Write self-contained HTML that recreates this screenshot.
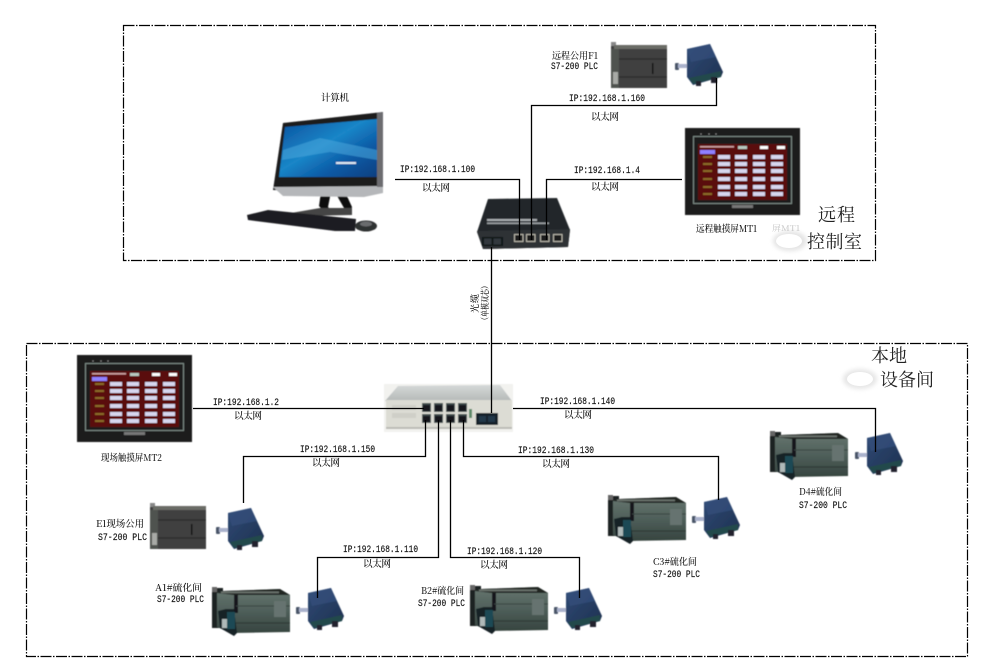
<!DOCTYPE html>
<html lang="zh">
<head>
<meta charset="utf-8">
<title>网络拓扑图</title>
<style>
html,body{margin:0;padding:0;background:#fff;width:985px;height:670px;overflow:hidden}
svg{display:block}
text{font-family:"Liberation Serif","Noto Serif CJK SC",serif;fill:#262626}
.ip{font-family:"Liberation Mono",monospace;font-size:10px;fill:#111;stroke:#111;stroke-width:.15}
.cn{font-family:"Noto Serif CJK SC","WenQuanYi Zen Hei",serif;font-size:9.6px;fill:#111;font-weight:500}
.big{font-family:"Noto Serif CJK SC","WenQuanYi Zen Hei",serif;font-size:18px;fill:#222;font-weight:400}
.l{fill:none;stroke:#000;stroke-width:1.3}
.b{fill:none;stroke:#000;stroke-width:1.2;stroke-dasharray:11 1.500 1.500 1.500}
</style>
</head>
<body>
<svg width="985" height="670" viewBox="0 0 985 670" xmlns="http://www.w3.org/2000/svg">
<defs>
<filter id="s" x="-5%" y="-5%" width="110%" height="110%"><feGaussianBlur stdDeviation="0.45"/></filter>
<filter id="c" x="-30%" y="-30%" width="160%" height="160%"><feGaussianBlur stdDeviation="2"/></filter>
<linearGradient id="scr" x1="0" y1="0" x2="1" y2="1"><stop offset="0" stop-color="#0a4f9c"/><stop offset=".45" stop-color="#1a86c8"/><stop offset=".7" stop-color="#0c5ba6"/><stop offset="1" stop-color="#0a3f80"/></linearGradient>
<linearGradient id="pl" x1="0" y1="0" x2="0" y2="1"><stop offset="0" stop-color="#66766f"/><stop offset=".5" stop-color="#4f5f5a"/><stop offset="1" stop-color="#36443f"/></linearGradient>
<linearGradient id="md" x1="0" y1="0" x2="1" y2="1"><stop offset="0" stop-color="#304a74"/><stop offset="1" stop-color="#1d3050"/></linearGradient>
<linearGradient id="sw" x1="0" y1="0" x2="0" y2="1"><stop offset="0" stop-color="#d5d8d8"/><stop offset="1" stop-color="#b5b9b8"/></linearGradient>

<g id="plcG" filter="url(#s)">
<rect x="0" y="3" width="11" height="40" fill="#1e2220"/>
<rect x="0" y="2" width="5" height="5" fill="#666"/>
<polygon points="5,8 11,6 68,4 78,10 78,47 20,48 5,42" fill="url(#pl)"/>
<polygon points="5,8 11,6 68,4 78,10 22,10" fill="#202624"/>
<rect x="9" y="6.500" width="58" height="1.800" fill="#aab0aa" opacity=".55"/>
<rect x="22" y="10" width="4" height="18" fill="#15191a"/>
<line x1="24" y1="21" x2="78" y2="21" stroke="#39423f" stroke-width="1"/>
<line x1="24" y1="38" x2="78" y2="38" stroke="#2c3533" stroke-width="1"/>
<rect x="62" y="16" width="12" height="16" fill="#66736f"/>
<polygon points="6,26 14,24 22,24 25,48 22,51 8,43" fill="#162226"/>
<rect x="15" y="27" width="8" height="17" fill="#1f4a55"/>
<rect x="10" y="34" width="5" height="9" fill="#aeb8b8"/>
</g>

<g id="plcD" filter="url(#s)">
<rect x="0" y="0" width="5" height="4" fill="#888"/>
<rect x="0" y="4" width="56" height="42" fill="#3f413f"/>
<rect x="3" y="3" width="53" height="4" fill="#6a6c66"/>
<rect x="0" y="7" width="8" height="39" fill="#50524f"/>
<line x1="8" y1="17" x2="56" y2="17" stroke="#232523" stroke-width="1"/>
<line x1="8" y1="35" x2="56" y2="35" stroke="#252725" stroke-width="1"/>
<rect x="41" y="21" width="1.500" height="11" fill="#111"/>
<rect x="2" y="30" width="5" height="12" fill="#a8aaa6"/>
</g>

<g id="mod" filter="url(#s)">
<rect x="0" y="19" width="4" height="7" rx="1" fill="#4a5468"/>
<rect x="3" y="20" width="10" height="4" fill="#aab2cc"/>
<polygon points="12,5 35,0 48,28 46,33 18,41 12,33" fill="url(#md)"/>
<polygon points="12,5 35,0 41,13 16,18" fill="#33507c" opacity=".7"/>
<polygon points="14,34 46,27 46,33 18,40" fill="#234a4c"/>
<rect x="21" y="37" width="5" height="5" fill="#20242e"/>
<rect x="36" y="33" width="6" height="6" fill="#20242e"/>
</g>

<g id="hmi" filter="url(#s)">
<rect width="115" height="87" fill="#1a1a1c"/>
<rect x="8.500" y="8.500" width="98" height="67" fill="none" stroke="#7c8a85" stroke-width="1"/>
<rect x="13" y="16" width="89" height="56" fill="#5a0710"/>
<circle cx="16" cy="6" r=".8" fill="#888"/><circle cx="24" cy="6" r=".8" fill="#888"/><circle cx="31" cy="6" r=".8" fill="#888"/>
<rect x="15" y="22" width="15" height="4" fill="#8f80ff"/>
<rect x="15" y="18" width="34" height="1.600" fill="#c9a0a0"/>
<rect x="53" y="18" width="9" height="3" fill="#b8c8c0"/><rect x="75" y="18" width="8" height="3" fill="#fff"/><rect x="92" y="18" width="8" height="3" fill="#fff"/>
<g fill="#d6d6ee">
<rect x="33" y="27" width="12" height="4"/><rect x="50" y="27" width="12" height="4"/><rect x="68" y="27" width="12" height="4"/><rect x="86" y="27" width="12" height="4"/>
<rect x="33" y="34" width="12" height="4"/><rect x="50" y="34" width="12" height="4"/><rect x="68" y="34" width="12" height="4"/><rect x="86" y="34" width="12" height="4"/>
<rect x="33" y="41" width="12" height="4"/><rect x="50" y="41" width="12" height="4"/><rect x="68" y="41" width="12" height="4"/><rect x="86" y="41" width="12" height="4"/>
<rect x="33" y="49" width="12" height="4"/><rect x="50" y="49" width="12" height="4"/><rect x="68" y="49" width="12" height="4"/><rect x="86" y="49" width="12" height="4"/>
<rect x="33" y="57" width="12" height="4"/><rect x="50" y="57" width="12" height="4"/><rect x="68" y="57" width="12" height="4"/><rect x="86" y="57" width="12" height="4"/>
<rect x="33" y="64" width="12" height="4"/><rect x="50" y="64" width="12" height="4"/><rect x="68" y="64" width="12" height="4"/><rect x="86" y="64" width="12" height="4"/>
</g>
<g fill="#8a6a28">
<rect x="18" y="28" width="9" height="2"/><rect x="18" y="35" width="9" height="2"/><rect x="18" y="42" width="9" height="2"/><rect x="18" y="50" width="9" height="2"/><rect x="18" y="58" width="9" height="2"/><rect x="18" y="65" width="9" height="2"/>
</g>
<rect x="47" y="77" width="21" height="3" fill="#777"/>
</g>

<g id="port"><rect width="9.500" height="8" fill="#b8b6aa"/><rect x="1" y="1" width="7.500" height="6" fill="#1c1c1c"/></g>
<g id="port2"><rect width="9" height="9" fill="#3d4a4c"/><rect x="1" y="2" width="7" height="6" fill="#15191a"/></g>
</defs>

<rect width="985" height="670" fill="#fff"/>

<!-- zone frames -->
<rect class="b" x="123.500" y="25.500" width="752" height="235"/>
<rect class="b" x="26.500" y="343.500" width="941" height="313"/>

<!-- computer -->
<g filter="url(#s)">
<polygon points="321,192 331,192 328,207 335,214 327,215 319,206" fill="#111"/>
<polygon points="336,194 346,194 352,207 350,214 342,214 344,208" fill="#111"/>
<polygon points="291,213 320,208 352,208 352,215 300,216" fill="#444"/>
<polygon points="283,123 383,112 383,193 273,190" fill="#1b1b1d"/>
<polygon points="273,187 383,186 383,193 364,197 283,196" fill="#b5b7ba"/>
<polygon points="377,113 383,112 383,187 377,187" fill="#6c6c70"/>
<polygon points="285,127 377,119 377,177 279,177" fill="url(#scr)"/>
<polygon points="283,150 320,138 377,150 377,160 330,152 282,160" fill="#4aa8dc" opacity=".55"/>
<rect x="336" y="162" width="20" height="2" fill="#dfe9f2"/>
<polygon points="247,215 268,210 356,219 355,231 335,231 248,220" fill="#1e1f20"/>
<ellipse cx="366" cy="226" rx="11" ry="5.500" fill="#2f3032"/>
<ellipse cx="366" cy="224" rx="6" ry="2.500" fill="#6a6c6e"/>
</g>

<!-- top switch -->
<g filter="url(#s)">
<polygon points="488,199 557,198 570,230 568,247 483,249 477,232" fill="#23282c"/>
<polygon points="477,231 570,229 568,247 483,249" fill="#2e3234"/>
<rect x="487" y="219" width="50" height="2" fill="#a8acb0"/><rect x="487" y="222.500" width="62" height="1.600" fill="#9a9ea2"/>
<rect x="482" y="237" width="21" height="9" fill="#101214"/>
<rect x="484" y="238.500" width="7.500" height="6" fill="#33383c"/><rect x="493.500" y="238.500" width="7.500" height="6" fill="#33383c"/>
<use href="#port" x="514" y="234"/><use href="#port" x="526" y="234"/><use href="#port" x="540" y="234"/><use href="#port" x="553" y="234"/>
</g>

<!-- bottom switch -->
<g filter="url(#s)">
<rect x="384" y="384" width="129" height="48" fill="#f2f2ef"/>
<polygon points="398,386 500,385 512,401 385,401" fill="url(#sw)"/>
<rect x="386" y="400" width="126" height="28" fill="#dcdcd4"/>
<rect x="386" y="427" width="126" height="2" fill="#bbbbb5"/>
<g fill="#cfcfc8"><rect x="392" y="405" width="24" height="5"/><rect x="392" y="413" width="24" height="5"/></g>
<use href="#port2" x="422" y="403"/><use href="#port2" x="434" y="403"/><use href="#port2" x="446" y="403"/><use href="#port2" x="458" y="403"/>
<use href="#port2" x="422" y="414"/><use href="#port2" x="434" y="414"/><use href="#port2" x="446" y="414"/><use href="#port2" x="458" y="414"/>
<rect x="469" y="409" width="3" height="9" fill="#5e8a6a"/>
<rect x="476" y="413" width="22" height="12" fill="#16222b"/>
<rect x="479" y="416" width="7" height="6" fill="#24384a"/><rect x="488" y="416" width="7" height="6" fill="#24384a"/>
</g>

<!-- devices -->
<use href="#hmi" x="685" y="128"/>
<use href="#hmi" x="77" y="355"/>
<use href="#plcD" x="611" y="42"/>
<use href="#plcD" x="150" y="503"/>
<use href="#mod" x="675" y="44"/>
<use href="#mod" x="216" y="508"/>
<use href="#mod" x="296" y="588"/>
<use href="#mod" x="554" y="588"/>
<use href="#mod" x="692" y="497"/>
<use href="#mod" x="855" y="433"/>
<use href="#plcG" x="212" y="585"/>
<use href="#plcG" x="470" y="583"/>
<use href="#plcG" x="608" y="493"/>
<use href="#plcG" x="770" y="429"/>

<!-- faint remnants -->
<ellipse cx="790" cy="241" rx="17" ry="10" fill="#e4e4e4" filter="url(#c)"/>
<ellipse cx="789" cy="241" rx="13" ry="7" fill="#fff"/>
<ellipse cx="860" cy="379" rx="17" ry="10" fill="#e6e6e6" filter="url(#c)"/>
<ellipse cx="860" cy="379" rx="13" ry="7" fill="#fff"/>
<text class="cn" x="772" y="231" textLength="28" lengthAdjust="spacingAndGlyphs" style="fill:#c4c4c4;font-size:8px;font-weight:400">屏MT1</text>

<!-- connectors -->
<polyline class="l" points="395,179.500 519.500,179.500 519.500,240"/>
<polyline class="l" points="531.500,240 531.500,105.500 716.500,105.500 716.500,78"/>
<polyline class="l" points="546.500,240 546.500,179.500 682,179.500"/>
<line class="l" x1="491.500" y1="247" x2="491.500" y2="413"/>
<line class="l" x1="193" y1="408.500" x2="424" y2="408.500"/>
<polyline class="l" points="513,408.500 875.500,408.500 875.500,452"/>
<polyline class="l" points="425.500,420 425.500,456.500 243.500,456.500 243.500,503"/>
<polyline class="l" points="438.500,420 438.500,557.500 317.500,557.500 317.500,598"/>
<polyline class="l" points="450.500,420 450.500,557.500 579.500,557.500 579.500,598"/>
<polyline class="l" points="463.500,420 463.500,456.500 718.500,456.500 718.500,500"/>

<!-- IP labels -->
<text class="ip" x="400" y="172" textLength="75" lengthAdjust="spacingAndGlyphs">IP:192.168.1.100</text>
<text class="ip" x="569" y="101" textLength="76" lengthAdjust="spacingAndGlyphs">IP:192.168.1.160</text>
<text class="ip" x="574" y="173" textLength="66" lengthAdjust="spacingAndGlyphs">IP:192.168.1.4</text>
<text class="ip" x="213" y="405" textLength="66" lengthAdjust="spacingAndGlyphs">IP:192.168.1.2</text>
<text class="ip" x="300" y="452" textLength="75" lengthAdjust="spacingAndGlyphs">IP:192.168.1.150</text>
<text class="ip" x="540" y="404" textLength="75" lengthAdjust="spacingAndGlyphs">IP:192.168.1.140</text>
<text class="ip" x="518" y="453" textLength="76" lengthAdjust="spacingAndGlyphs">IP:192.168.1.130</text>
<text class="ip" x="343" y="552" textLength="75" lengthAdjust="spacingAndGlyphs">IP:192.168.1.110</text>
<text class="ip" x="467" y="554" textLength="75" lengthAdjust="spacingAndGlyphs">IP:192.168.1.120</text>

<!-- 以太网 labels -->
<text class="cn" x="422" y="191" textLength="28">以太网</text>
<text class="cn" x="591" y="120" textLength="28">以太网</text>
<text class="cn" x="591" y="190" textLength="28">以太网</text>
<text class="cn" x="234" y="419" textLength="28">以太网</text>
<text class="cn" x="312" y="466" textLength="28">以太网</text>
<text class="cn" x="564" y="418" textLength="28">以太网</text>
<text class="cn" x="542" y="467" textLength="28">以太网</text>
<text class="cn" x="363" y="567" textLength="28">以太网</text>
<text class="cn" x="480" y="568" textLength="28">以太网</text>

<!-- device labels -->
<text class="cn" x="321" y="101" textLength="28">计算机</text>
<text class="cn" x="552" y="59" textLength="46" lengthAdjust="spacingAndGlyphs">远程公用F1</text>
<text class="ip" x="551" y="69" textLength="47" lengthAdjust="spacingAndGlyphs">S7-200 PLC</text>
<text class="cn" x="696" y="232" textLength="61" lengthAdjust="spacingAndGlyphs">远程触摸屏MT1</text>
<text class="cn" x="101" y="461" textLength="61" lengthAdjust="spacingAndGlyphs">现场触摸屏MT2</text>
<text class="cn" x="96" y="527" textLength="48" lengthAdjust="spacingAndGlyphs">E1现场公用</text>
<text class="ip" x="98" y="540" textLength="49" lengthAdjust="spacingAndGlyphs">S7-200 PLC</text>
<text class="cn" x="155" y="591" textLength="47" lengthAdjust="spacingAndGlyphs">A1#硫化间</text>
<text class="ip" x="157" y="602" textLength="47" lengthAdjust="spacingAndGlyphs">S7-200 PLC</text>
<text class="cn" x="421" y="594" textLength="43" lengthAdjust="spacingAndGlyphs">B2#硫化间</text>
<text class="ip" x="418" y="606" textLength="47" lengthAdjust="spacingAndGlyphs">S7-200 PLC</text>
<text class="cn" x="653" y="565" textLength="44" lengthAdjust="spacingAndGlyphs">C3#硫化间</text>
<text class="ip" x="653" y="577" textLength="47" lengthAdjust="spacingAndGlyphs">S7-200 PLC</text>
<text class="cn" x="799" y="495" textLength="43" lengthAdjust="spacingAndGlyphs">D4#硫化间</text>
<text class="ip" x="799" y="508" textLength="48" lengthAdjust="spacingAndGlyphs">S7-200 PLC</text>

<!-- fibre label -->
<text class="cn" transform="translate(478,313) rotate(-90)" textLength="19" style="font-size:9px">光缆</text>
<text class="cn" transform="translate(488,324) rotate(-90)" textLength="42" lengthAdjust="spacingAndGlyphs" style="font-size:8.5px">（单模双芯）</text>

<!-- zone titles -->
<text class="big" x="818" y="221" textLength="37">远程</text>
<text class="big" x="807" y="248" textLength="55">控制室</text>
<text class="big" x="871" y="362" textLength="36">本地</text>
<text class="big" x="880" y="386" textLength="54">设备间</text>
</svg>
</body>
</html>
